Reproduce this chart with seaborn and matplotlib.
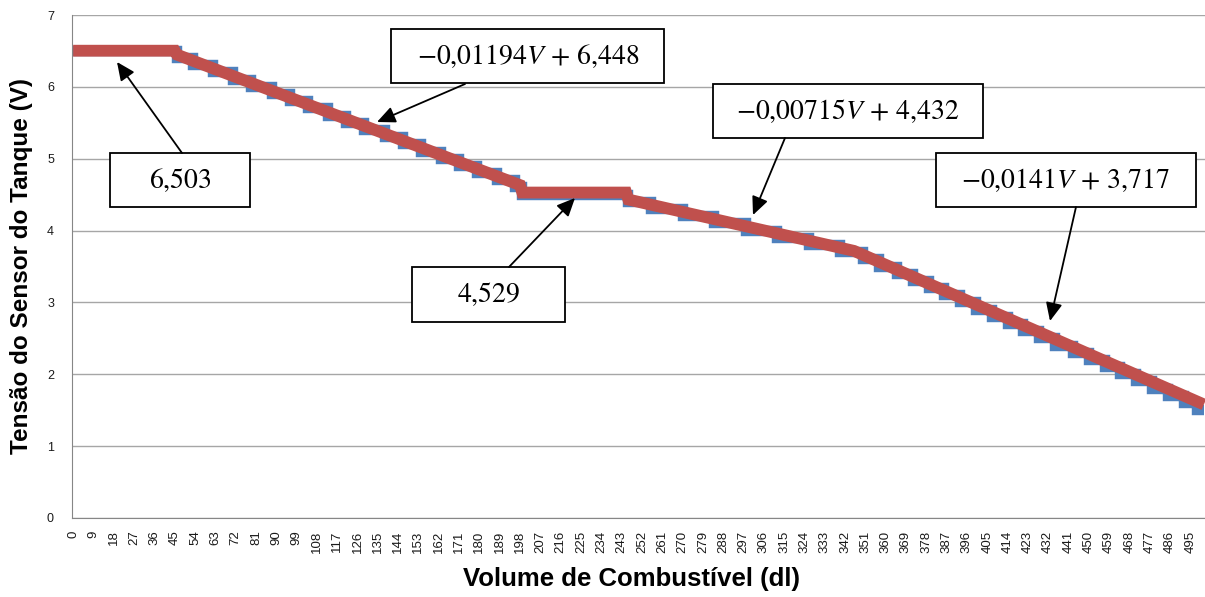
import numpy as np
import pandas as pd
import matplotlib as mpl
import matplotlib.pyplot as plt
import seaborn as sns
from matplotlib.patches import Rectangle

# valores lidos do grafico
# curva medida (azul): degraus, inicio de cada degrau e nivel
blue_x = [0, 46, 53, 62, 71, 79, 88, 96, 104, 113, 121, 129, 138, 146, 154, 163,
          171, 179, 188, 196, 199, 246, 256, 270, 284, 298, 312, 326, 340, 350,
          357, 365, 372, 379, 386, 393, 400, 407, 414, 421, 428, 435, 443, 450,
          457, 464, 471, 478, 485, 492, 498, 501]
blue_y = [6.5, 6.4, 6.3, 6.2, 6.1, 6.0, 5.9, 5.8, 5.7, 5.6, 5.5, 5.4, 5.3, 5.2, 5.1,
          5.0, 4.9, 4.8, 4.7, 4.6, 4.5, 4.4, 4.3, 4.2, 4.1, 4.0, 3.9, 3.8, 3.7, 3.6,
          3.5, 3.4, 3.3, 3.2, 3.1, 3.0, 2.9, 2.8, 2.7, 2.6, 2.5, 2.4, 2.3, 2.2, 2.1,
          2.0, 1.9, 1.8, 1.7, 1.6, 1.5, 1.5]

# ajuste por trechos (vermelho): pontos de quebra
red_x = [0, 45, 46, 198, 199, 245, 246, 346, 501]
red_y = [6.503, 6.503, 6.448, 4.633, 4.529, 4.529, 4.432, 3.717, 1.58]

labels = ["$6{,}503$", r"$-0{,}01194V\,+\,6{,}448$", "$4{,}529$",
          r"$-0{,}00715V\,+\,4{,}432$", r"$-0{,}0141V\,+\,3{,}717$"]
n_cat = 502
tick_labels = [str(v) for v in range(0, n_cat, 9)]

sns.set_style("white")
plt.rcParams['font.family'] = ['Liberation Sans', 'DejaVu Sans']
plt.rcParams['mathtext.fontset'] = 'stix'
plt.rcParams['text.color'] = 'black'

fig = plt.figure(figsize=(12.05, 5.97), dpi=100)
ax = fig.add_axes([72 / 1205, 79 / 597, 1133 / 1205, 503 / 597])

blue = pd.DataFrame({"x": blue_x, "y": blue_y})
red = pd.DataFrame({"x": red_x, "y": red_y})
sns.lineplot(data=blue, x="x", y="y", ax=ax, color="#4F81BD", lw=7.5,
             estimator=None, sort=False, drawstyle="steps-post",
             solid_capstyle="butt", solid_joinstyle="miter")
sns.lineplot(data=red, x="x", y="y", ax=ax, color="#C0504D", lw=8.5,
             estimator=None, sort=False, solid_capstyle="butt",
             solid_joinstyle="miter")

ax.set_xlim(-0.5, n_cat - 0.5)
ax.set_ylim(0, 7)
ax.set_yticks(range(8))
ax.set_xticks(range(0, n_cat, 9))
ax.set_xticklabels(tick_labels, rotation=90, fontsize=9.5, color="#1a1a1a")
ax.set_xticks(range(n_cat), minor=True)
ax.tick_params(axis="y", labelsize=9, length=5, color="#868686", direction="out",
               pad=8, labelcolor="#1a1a1a")
ax.tick_params(axis="x", which="both", length=5, width=0.6, color="#9a9a9a",
               direction="out", pad=4)
ax.yaxis.grid(True, color="#a6a6a6", lw=1)
ax.set_axisbelow(True)
for s in ["top", "right"]:
    ax.spines[s].set_visible(False)
ax.spines["left"].set_color("#868686")
ax.spines["bottom"].set_color("#868686")

ax.set_xlabel("Volume de Combustível (dl)", fontsize=18.5, fontweight="bold",
              color="black")
ax.set_ylabel("Tensão do Sensor do Tanque (V)", fontsize=17.5, fontweight="bold",
              color="black")
ax.xaxis.set_label_coords(0.494, -0.098)
ax.yaxis.set_label_coords(-0.034, 0.5)

# caixas: centro, largura, altura (px); seta: cauda -> ponta (px)
px, py = 1133 / n_cat, 503 / 7
boxes = [((180, 180), 140, 54, (182, 153), (117, 62)),
         ((528, 56), 273, 54, (465, 84), (377, 122)),
         ((489, 294), 153, 55, (509, 267), (575, 198)),
         ((848, 111), 270, 54, (785, 138), (753, 215)),
         ((1066, 180), 260, 54, (1076, 207), (1050, 321))]


def to_data(p):
    return ((p[0] - 72) / px - 0.5, (518 - p[1]) / py)


for lab, (c, w, h, tail, tip) in zip(labels, boxes):
    cx, cy = to_data(c)
    ax.add_patch(Rectangle((cx - w / px / 2, cy - h / py / 2), w / px, h / py,
                           facecolor="white", edgecolor="black", lw=1.3,
                           zorder=5, clip_on=False))
    ax.text(cx, cy, lab, fontsize=20, ha="center", va="center", zorder=6)
    ax.annotate("", xy=to_data(tip), xytext=to_data(tail), zorder=6,
                arrowprops=dict(arrowstyle="-|>,head_length=0.55,head_width=0.25",
                                mutation_scale=20, color="black", lw=1.3,
                                shrinkA=0, shrinkB=0))

fig.savefig("out.png", dpi=100)
